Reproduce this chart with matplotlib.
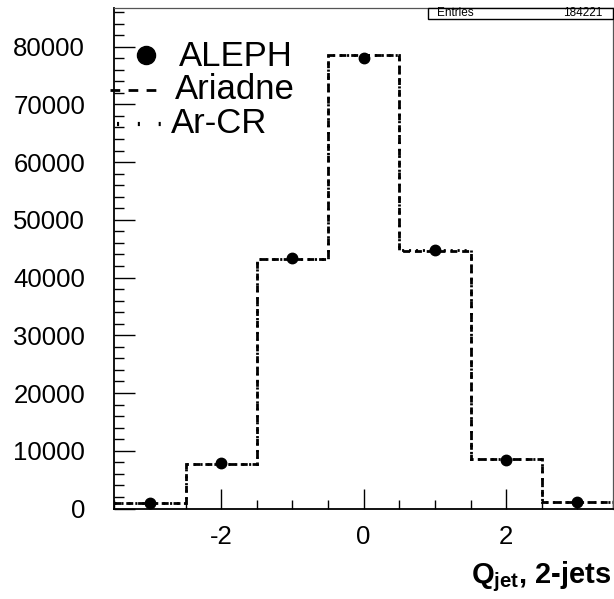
import matplotlib
matplotlib.use('Agg')
import matplotlib.pyplot as plt
from matplotlib.lines import Line2D
from matplotlib.patches import Rectangle
from matplotlib.ticker import MultipleLocator
import numpy as np

plt.rcParams['font.family'] = ['Liberation Sans', 'DejaVu Sans']
plt.rcParams['mathtext.fontset'] = 'custom'
plt.rcParams['mathtext.rm'] = 'Liberation Sans'
plt.rcParams['mathtext.bf'] = 'Liberation Sans:bold'
plt.rcParams['lines.scale_dashes'] = False
plt.rcParams['axes.unicode_minus'] = False

# bin centres of Q_jet and contents
bin_centres = [-3, -2, -1, 0, 1, 2, 3]
bin_edges = [-3.5, -2.5, -1.5, -0.5, 0.5, 1.5, 2.5, 3.5]
aleph = [900, 7830, 43360, 78000, 44790, 8400, 1070]
ariadne = [920, 7660, 43230, 78580, 44600, 8580, 1130]
ar_cr = [900, 7640, 43250, 78620, 44790, 8600, 1120]
entries = 184221

W, H = 614, 599
fig = plt.figure(figsize=(W / 100, H / 100), dpi=100)
ax = fig.add_axes([114.3 / W, 1 - 508.5 / H, (613 - 114.3) / W, (508.5 - 8) / H])


def px(x, y):
    """ pixel position in the image -> figure fraction """
    return x / W, 1 - y / H


# histograms
ax.stairs(ariadne, bin_edges, color='black', linewidth=2.0,
          linestyle=(0, (5, 3.5)), baseline=None)
ax.stairs(ar_cr, bin_edges, color='black', linewidth=2.0,
          linestyle=(0, (1.5, 3.5)), baseline=None)
ax.plot(bin_centres, aleph, 'o', color='black', markersize=7.5, zorder=5)

ax.set_xlim(-3.5, 3.5)
ax.set_ylim(0, 86700)

ax.xaxis.set_major_locator(MultipleLocator(2))
ax.xaxis.set_minor_locator(MultipleLocator(0.5))
ax.yaxis.set_major_locator(MultipleLocator(10000))
ax.yaxis.set_minor_locator(MultipleLocator(2000))
ax.tick_params(which='both', direction='in', top=False, right=False, width=1.0)
ax.tick_params(axis='x', which='major', length=14.5, labelsize=18.5, pad=12)
ax.tick_params(axis='x', which='minor', length=6.5)
ax.tick_params(axis='y', which='major', length=15, labelsize=18.5, pad=21)
ax.tick_params(axis='y', which='minor', length=7)
for side in ['left', 'bottom']:
    ax.spines[side].set_linewidth(1.3)
for side in ['top', 'right']:
    ax.spines[side].set_linewidth(0.9)
    ax.spines[side].set_color('#555555')

# x axis title
fig.text(*px(612, 583), r'$\mathbf{Q_{jet}}$, 2-jets', fontsize=21,
         fontweight='bold', ha='right', va='baseline')

# stats box
x0, y0 = px(428, 18.5)
x1, y1 = px(613, 8)
fig.patches.append(Rectangle((x0, y0), x1 - x0, y1 - y0, transform=fig.transFigure,
                             facecolor='white', edgecolor='black', linewidth=1.0))
fig.text(*px(437, 16), 'Entries', fontsize=8.5, va='baseline')
fig.text(*px(602, 16), str(entries), fontsize=8.5, va='baseline', ha='right')

# legend
lx, ly = px(145.7, 55)
fig.lines.append(Line2D([lx], [ly], marker='o', color='black', markersize=13,
                        linestyle='none', transform=fig.transFigure))
fig.text(*px(179, 65.7), 'ALEPH', fontsize=25, va='baseline')

(ax0, ay), (ax1, _) = px(110, 90), px(163, 90)
fig.lines.append(Line2D([ax0, ax1], [ay, ay], color='black', linewidth=2.0,
                        linestyle=(0, (7, 6)), transform=fig.transFigure))
fig.text(*px(175, 99), 'Ariadne', fontsize=25, va='baseline')

(bx0, by), (bx1, _) = px(117, 124), px(162, 124)
fig.lines.append(Line2D([bx0, bx1], [by, by], color='black', linewidth=3.0,
                        linestyle=(0, (1.5, 13.5)), transform=fig.transFigure))
fig.text(*px(171, 133), 'Ar-CR', fontsize=25, va='baseline')

fig.savefig('out.png', dpi=100)
